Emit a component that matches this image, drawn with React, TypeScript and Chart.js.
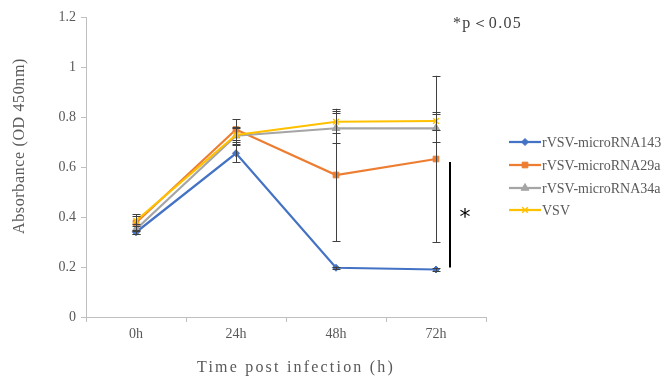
import React, { useEffect, useRef } from "react";
import { Chart, registerables } from "chart.js";
import { drawPoint } from "chart.js/helpers";

Chart.register(...registerables);

const categories = ["0h", "24h", "48h", "72h"];
const seriesNames = ["rVSV-microRNA143", "rVSV-microRNA29a", "rVSV-microRNA34a", "VSV"];
const mir143 = [0.339, 0.655, 0.197, 0.19];
const mir143Err = [0.008, 0.036, 0.005, 0.005];
const mir29a = [0.377, 0.75, 0.568, 0.632];
const mir29aErr = [0.033, 0.04, 0.265, 0.333];
const mir34a = [0.351, 0.725, 0.755, 0.755];
const mir34aErr = [0.02, 0.035, 0.06, 0.056];
const vsv = [0.385, 0.728, 0.781, 0.784];
const vsvErr = [0.02, 0.027, 0.043, 0.035];
const yMin = 0;
const yMax = 1.2;
const yStep = 0.2;
const xTitle = "Time post infection (h)";
const yTitle = "Absorbance (OD 450nm)";
const sigNote = "*p＜0.05";

const colors = ["#4472C4", "#ED7D31", "#A5A5A5", "#FFC000"];
const pointStyles = ["rectRot", "rect", "triangle", "crossRot"];
const pointRadii = [3.5, 4, 4.5, 4];
const values = [mir143, mir29a, mir34a, vsv];
const errors = [mir143Err, mir29aErr, mir34aErr, vsvErr];

const SERIF = "'Liberation Serif', 'DejaVu Serif', serif";
const TEXT = "#595959";

// draw text stretched (via letter spacing) to a target width, like SimSun's monospaced Latin
function fitText(ctx: any, text: string, x: number, y: number, width: number, align: string) {
  ctx.letterSpacing = "0px";
  const w = ctx.measureText(text).width;
  const n = Math.max(1, text.length);
  const sp = Math.max(0, (width - w) / n);
  ctx.letterSpacing = `${sp}px`;
  const total = w + sp * n;
  let sx = x;
  if (align === "center") sx = x - total / 2;
  else if (align === "right") sx = x - total;
  ctx.textAlign = "left";
  ctx.fillText(text, sx, y);
  ctx.letterSpacing = "0px";
}

const overlayPlugin = {
  id: "overlay",
  afterDatasetsDraw(chart: any) {
    const ctx = chart.ctx;
    const xs = chart.scales.x;
    const ys = chart.scales.y;
    ctx.save();
    ctx.strokeStyle = "#404040";
    ctx.lineWidth = 1;
    errors.forEach((errArr, si) => {
      errArr.forEach((e, i) => {
        const x = Math.round(xs.getPixelForValue(i)) + 0.5;
        const v = values[si][i];
        const yt = ys.getPixelForValue(v + e);
        const yb = ys.getPixelForValue(v - e);
        ctx.beginPath();
        ctx.moveTo(x, yt);
        ctx.lineTo(x, yb);
        ctx.moveTo(x - 4, Math.round(yt) + 0.5);
        ctx.lineTo(x + 4, Math.round(yt) + 0.5);
        ctx.moveTo(x - 4, Math.round(yb) + 0.5);
        ctx.lineTo(x + 4, Math.round(yb) + 0.5);
        ctx.stroke();
      });
    });
    ctx.restore();
  },
  afterDraw(chart: any) {
    const ctx = chart.ctx;
    const xs = chart.scales.x;
    const ys = chart.scales.y;
    ctx.save();
    // axis titles
    ctx.fillStyle = TEXT;
    ctx.font = `16px ${SERIF}`;
    ctx.textBaseline = "middle";
    fitText(ctx, xTitle, 296, 368, 198, "center");
    ctx.save();
    ctx.translate(20, 146);
    ctx.rotate(-Math.PI / 2);
    ctx.font = `16px ${SERIF}`;
    fitText(ctx, yTitle, 0, 0, 176, "center");
    ctx.restore();

    // significance note
    ctx.fillStyle = "#404040";
    ctx.font = `16px ${SERIF}`;
    fitText(ctx, sigNote, 453, 24, 69, "left");

    // significance bracket between last points of 29a and 143
    const last = categories.length - 1;
    const yTop = ys.getPixelForValue(mir29a[last]) + 3;
    const yBot = ys.getPixelForValue(mir143[last]) - 2;
    const bx = xs.getPixelForValue(last) + 14;
    ctx.strokeStyle = "#000000";
    ctx.lineWidth = 2;
    ctx.beginPath();
    ctx.moveTo(bx, yTop);
    ctx.lineTo(bx, yBot);
    ctx.stroke();
    ctx.fillStyle = "#000000";
    ctx.font = `22px 'DejaVu Sans', sans-serif`;
    ctx.textAlign = "center";
    ctx.fillText("*", bx + 15, (yTop + yBot) / 2 + 4);

    // legend
    const lx0 = 509;
    const lx1 = 541;
    const ly = [142, 165, 188, 210];
    seriesNames.forEach((name, i) => {
      ctx.strokeStyle = colors[i];
      ctx.lineWidth = 2.25;
      ctx.beginPath();
      ctx.moveTo(lx0, ly[i]);
      ctx.lineTo(lx1, ly[i]);
      ctx.stroke();
      ctx.fillStyle = colors[i];
      ctx.strokeStyle = colors[i];
      ctx.lineWidth = i === 3 ? 1.5 : 1;
      drawPoint(ctx, { pointStyle: pointStyles[i], radius: pointRadii[i], rotation: 0, borderWidth: ctx.lineWidth }, (lx0 + lx1) / 2, ly[i]);
      ctx.fillStyle = TEXT;
      ctx.font = `14px ${SERIF}`;
      ctx.textBaseline = "middle";
      fitText(ctx, name, 542, ly[i] + 1, name.length * 7.25, "left");
    });
    ctx.restore();
  },
};

export default function App() {
  const ref = useRef<HTMLCanvasElement | null>(null);
  useEffect(() => {
    document.body.style.margin = "0";
    const canvas = ref.current;
    if (!canvas) return;
    const chart = new Chart(canvas, {
      type: "line",
      data: {
        labels: categories,
        datasets: values.map((v, i) => ({
          label: seriesNames[i],
          data: v,
          borderColor: colors[i],
          backgroundColor: colors[i],
          borderWidth: 2.25,
          pointStyle: pointStyles[i] as any,
          pointRadius: pointRadii[i],
          pointBorderWidth: i === 3 ? 1.5 : 1,
          pointBackgroundColor: colors[i],
          pointBorderColor: colors[i],
          tension: 0,
          fill: false,
          order: 3 - i,
        })),
      },
      options: {
        animation: false,
        responsive: false,
        maintainAspectRatio: false,
        layout: { padding: { left: 0, top: 17, right: 178, bottom: 0 } },
        plugins: {
          legend: { display: false },
          tooltip: { enabled: false },
          title: { display: false },
        },
        scales: {
          x: {
            type: "category",
            offset: true,
            grid: {
              display: true,
              drawOnChartArea: false,
              drawTicks: true,
              tickLength: 5,
              color: "#bfbfbf",
              offset: true,
            },
            border: { display: true, color: "#bfbfbf", width: 1 },
            ticks: {
              color: TEXT,
              font: { family: SERIF, size: 14 },
              padding: 4,
              maxRotation: 0,
            },
            afterFit(scale: any) {
              scale.height = 59;
            },
          },
          y: {
            min: yMin,
            max: yMax,
            grid: {
              display: true,
              drawOnChartArea: false,
              drawTicks: true,
              tickLength: 5,
              color: "#bfbfbf",
            },
            border: { display: true, color: "#bfbfbf", width: 1 },
            ticks: {
              stepSize: yStep,
              color: TEXT,
              font: { family: SERIF, size: 14 },
              padding: 5,
              callback: (v: any) => String(Math.round(Number(v) * 10) / 10),
            },
            afterFit(scale: any) {
              scale.width = 86;
            },
          },
        },
      },
      plugins: [overlayPlugin],
    });
    return () => chart.destroy();
  }, []);
  return (
    <div style={{ width: 664, height: 376, background: "#fff" }}>
      <canvas ref={ref} width={664} height={376} style={{ display: "block" }} />
    </div>
  );
}
